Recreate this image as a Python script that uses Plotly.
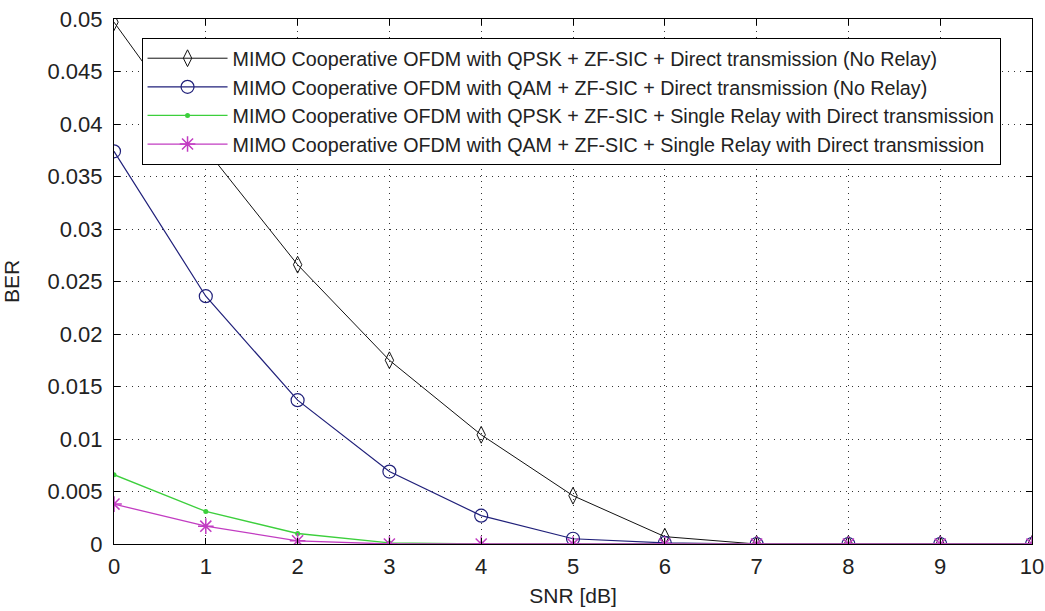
import plotly.graph_objects as go

snr = [0, 1, 2, 3, 4, 5, 6, 7, 8, 9, 10]
ber_qpsk_direct = [0.0497, 0.0376, 0.0266, 0.0175, 0.0104, 0.0046, 0.0007, 0, 0, 0, 0]
ber_qam_direct = [0.0374, 0.0236, 0.0137, 0.0069, 0.0027, 0.0005, 0.0001, 0, 0, 0, 0]
ber_qpsk_relay = [0.0066, 0.0031, 0.0010, 0.0001, 0, 0, 0, 0, 0, 0, 0]
ber_qam_relay = [0.0038, 0.0017, 0.0003, 0, 0, 0, 0, 0, 0, 0, 0]

names = [
    "MIMO Cooperative OFDM with QPSK + ZF-SIC + Direct transmission (No Relay)",
    "MIMO Cooperative OFDM with QAM + ZF-SIC + Direct transmission (No Relay)",
    "MIMO Cooperative OFDM with QPSK + ZF-SIC + Single Relay with Direct transmission",
    "MIMO Cooperative OFDM with QAM + ZF-SIC + Single Relay with Direct transmission",
]
y_ticks = [0, 0.005, 0.01, 0.015, 0.02, 0.025, 0.03, 0.035, 0.04, 0.045, 0.05]
y_tick_text = ["0", "0.005", "0.01", "0.015", "0.02", "0.025", "0.03", "0.035", "0.04", "0.045", "0.05"]

FONT = "Arial, Liberation Sans, sans-serif"

fig = go.Figure()
fig.add_trace(go.Scatter(x=snr, y=ber_qpsk_direct, name=names[0], mode="lines+markers",
                         line=dict(color="#111111", width=1),
                         marker=dict(symbol="diamond-tall-open", size=12, color="#111111", line=dict(width=1))))
fig.add_trace(go.Scatter(x=snr, y=ber_qam_direct, name=names[1], mode="lines+markers",
                         line=dict(color="#20207a", width=1.2),
                         marker=dict(symbol="circle-open", size=13, color="#20207a", line=dict(width=1.2))))
fig.add_trace(go.Scatter(x=snr, y=ber_qpsk_relay, name=names[2], mode="lines+markers",
                         line=dict(color="#3ccf3c", width=1.3),
                         marker=dict(symbol="circle", size=5, color="#3ccf3c")))
fig.add_trace(go.Scatter(x=snr, y=ber_qam_relay, name=names[3], mode="lines+markers",
                         line=dict(color="#c23cc2", width=1.3),
                         marker=dict(symbol="asterisk-open", size=13, color="#c23cc2", line=dict(width=1.5, color="#c23cc2"))))

axis_common = dict(
    showline=True, linecolor="black", linewidth=1.2, mirror="ticks",
    ticks="inside", ticklen=6, tickcolor="black",
    showgrid=True, gridcolor="#333333", gridwidth=1, griddash="1px,5px",
    zeroline=False, automargin=False, ticklabeloverflow="allow",
    tickfont=dict(family=FONT, size=22, color="#222222"),
)
fig.update_xaxes(range=[0, 10], tickvals=snr, ticktext=[str(v) for v in snr],
                 title=dict(text="SNR [dB]", font=dict(family=FONT, size=21, color="#222222"), standoff=10),
                 ticklabelstandoff=2,
                 **axis_common)
fig.update_yaxes(range=[0, 0.05], tickvals=y_ticks, ticktext=y_tick_text,
                 title=dict(text="BER", font=dict(family=FONT, size=21, color="#222222"), standoff=27),
                 ticklabelstandoff=6,
                 **axis_common)

fig.update_layout(
    width=1045, height=611,
    margin=dict(l=114, r=13, t=19, b=67),
    paper_bgcolor="white", plot_bgcolor="white",
    font=dict(family=FONT, size=20, color="#222222"),
    legend=dict(x=0.03, y=0.964, xanchor="left", yanchor="top",
                bgcolor="white", bordercolor="black", borderwidth=1,
                font=dict(size=19.7), itemwidth=80, tracegroupgap=0),
    showlegend=True,
)

fig.write_html("out.html",
               config={"displayModeBar": False},
               post_script="document.body.style.margin='0';document.body.style.overflow='hidden';")
